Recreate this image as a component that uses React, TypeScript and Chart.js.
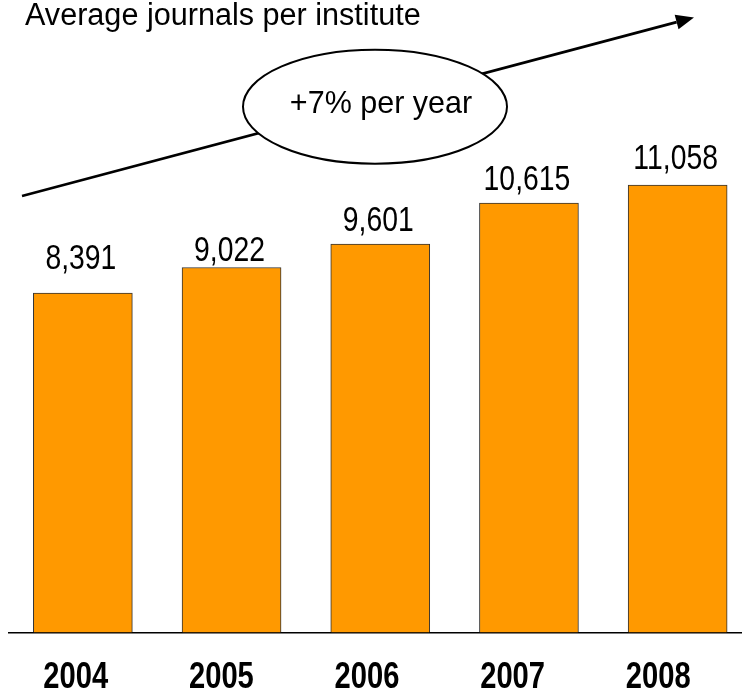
import React, { useEffect, useRef } from "react";
import { Chart, registerables } from "chart.js";

Chart.register(...registerables);

// ---- data ----
const categories: string[] = ["2004", "2005", "2006", "2007", "2008"];
const journals: number[] = [8391, 9022, 9601, 10615, 11058];
const chartTitle = "Average journals per institute";
const growthLabel = "+7% per year";

// ---- styling (not data) ----
const CANVAS_W = 752;
const CANVAS_H = 692;
const SANS = "'Liberation Sans', Arial, sans-serif";
const NARROW_SCALE = 0.81; // emulates a condensed (Arial Narrow-like) face
const labelGapsPx = [24, 6.5, 13.3, 12.6, 15.7];

const formatNum = (v: number) => v.toLocaleString("en-US");

function narrowText(ctx: CanvasRenderingContext2D, text: string, x: number, y: number) {
  ctx.save();
  ctx.translate(x, y);
  ctx.scale(NARROW_SCALE, 1);
  ctx.textAlign = "center";
  ctx.textBaseline = "alphabetic";
  ctx.fillText(text, 0, 0);
  ctx.restore();
}

const overlayPlugin = {
  id: "overlay",
  afterDraw(chart: any) {
    const ctx: CanvasRenderingContext2D = chart.ctx;
    ctx.save();
    // title
    ctx.fillStyle = "#000";
    ctx.font = `30.6px ${SANS}`;
    ctx.textAlign = "left";
    ctx.textBaseline = "alphabetic";
    ctx.fillText(chartTitle, 25, 25);

    // arrow
    const x0 = 22, y0 = 196, x1 = 694, y1 = 17.5;
    const ang = Math.atan2(y1 - y0, x1 - x0);
    const headLen = 18, headW = 7.5;
    const bx = x1 - headLen * Math.cos(ang);
    const by = y1 - headLen * Math.sin(ang);
    ctx.strokeStyle = "#000";
    ctx.lineWidth = 2.6;
    ctx.beginPath();
    ctx.moveTo(x0, y0);
    ctx.lineTo(bx, by);
    ctx.stroke();
    ctx.fillStyle = "#000";
    ctx.beginPath();
    ctx.moveTo(x1, y1);
    ctx.lineTo(bx + headW * Math.sin(ang), by - headW * Math.cos(ang));
    ctx.lineTo(bx - headW * Math.sin(ang), by + headW * Math.cos(ang));
    ctx.closePath();
    ctx.fill();

    // ellipse
    ctx.beginPath();
    ctx.ellipse(375, 106.7, 132, 57, 0, 0, Math.PI * 2);
    ctx.fillStyle = "#fff";
    ctx.fill();
    ctx.lineWidth = 2;
    ctx.strokeStyle = "#000";
    ctx.stroke();
    ctx.fillStyle = "#000";
    ctx.font = `30.5px ${SANS}`;
    ctx.textAlign = "center";
    ctx.fillText(growthLabel, 381, 112.7);

    // value labels
    const meta = chart.getDatasetMeta(0);
    ctx.font = `35px ${SANS}`;
    meta.data.forEach((el: any, i: number) => {
      const v = chart.data.datasets[0].data[i] as number;
      narrowText(ctx, formatNum(v), el.x - 2, el.y - labelGapsPx[i]);
    });

    // category labels under the axis
    const xs = chart.scales.x;
    ctx.font = `bold 36px ${SANS}`;
    const first = xs.getPixelForTick(0);
    const labels: string[] = chart.data.labels as string[];
    labels.forEach((lab, i) => {
      const px = xs.getPixelForTick(i);
      const lx = 75.8 + (px - first) * (145.6 / 148.7);
      narrowText(ctx, lab, lx, 688);
    });
    ctx.restore();
  },
};

export default function App() {
  const ref = useRef<HTMLCanvasElement | null>(null);

  useEffect(() => {
    if (!ref.current) return;
    const chart = new Chart(ref.current, {
      type: "bar",
      data: {
        labels: categories,
        datasets: [
          {
            data: journals,
            backgroundColor: "#FF9900",
            borderColor: "#333333",
            borderWidth: 1,
            barThickness: 99,
          },
        ],
      },
      options: {
        responsive: false,
        animation: false,
        events: [],
        layout: { padding: { left: 8.5, right: 0, top: 25.6, bottom: 59.5 } },
        plugins: {
          legend: { display: false },
          tooltip: { enabled: false },
          title: { display: false },
        },
        scales: {
          y: { display: false, min: 0, max: 15000 },
          x: {
            grid: { display: false, drawTicks: false },
            border: { display: true, color: "#000", width: 1.5 },
            ticks: { display: false },
          },
        },
      },
      plugins: [overlayPlugin],
    });
    return () => chart.destroy();
  }, []);

  return (
    <div style={{ position: "absolute", left: 0, top: 0, width: 742, height: 692, overflow: "hidden", background: "#fff" }}>
      <canvas ref={ref} width={CANVAS_W} height={CANVAS_H} style={{ display: "block" }} />
    </div>
  );
}
